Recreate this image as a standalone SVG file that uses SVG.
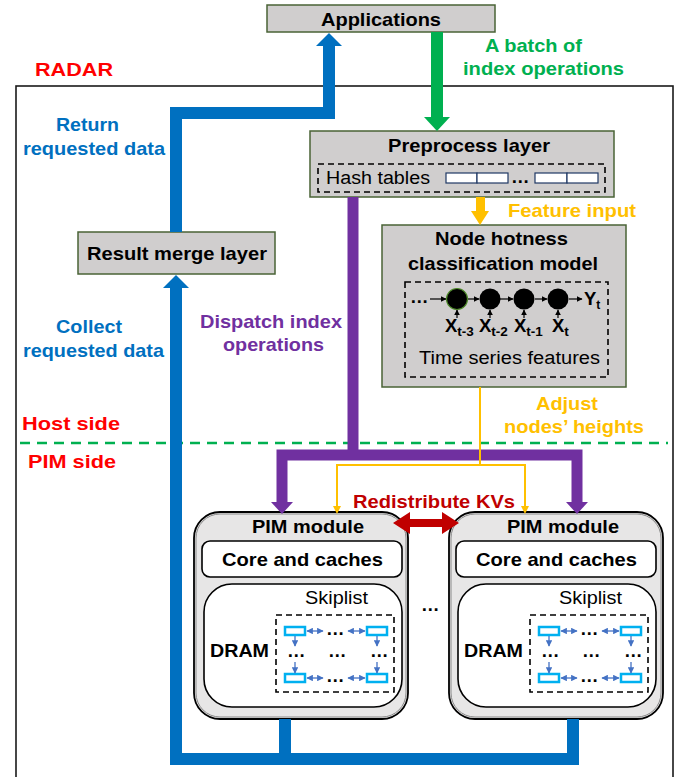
<svg xmlns="http://www.w3.org/2000/svg" width="681" height="777" viewBox="0 0 681 777">
<defs>
<style>
text{font-family:"Liberation Sans",Arial,sans-serif;}
.b{font-weight:bold;font-size:18.5px;}
.n{font-size:18px;}
.box{fill:#d0cece;stroke:#4a6336;stroke-width:1.5;}
.dash{fill:none;stroke:#000;stroke-width:1.6;stroke-dasharray:6 4;}
.cell{fill:#fff;stroke:#1f3864;stroke-width:1.2;}
.sk{fill:#fff;stroke:#00b0f0;stroke-width:2.5;}
.ska{stroke:#4472c4;stroke-width:1.3;fill:none;}
</style>
<marker id="ah" viewBox="0 0 10 10" refX="9" refY="5" markerWidth="5" markerHeight="5" orient="auto-start-reverse"><path d="M0,0 L10,5 L0,10 z" fill="#4472c4"/></marker>
<marker id="bk" viewBox="0 0 10 10" refX="9" refY="5" markerWidth="5" markerHeight="5" orient="auto"><path d="M0,0 L10,5 L0,10 z" fill="#000"/></marker>
<g id="skip">
<rect class="dash" x="276" y="615" width="118" height="77"/>
<rect class="sk" x="285" y="627" width="20" height="8"/>
<rect class="sk" x="367" y="627" width="20" height="8"/>
<rect class="sk" x="285" y="674" width="20" height="8"/>
<rect class="sk" x="367" y="674" width="20" height="8"/>
<line class="ska" x1="307" y1="631" x2="323" y2="631" marker-start="url(#ah)" marker-end="url(#ah)"/>
<line class="ska" x1="348" y1="631" x2="365" y2="631" marker-start="url(#ah)" marker-end="url(#ah)"/>
<line class="ska" x1="307" y1="678" x2="323" y2="678" marker-start="url(#ah)" marker-end="url(#ah)"/>
<line class="ska" x1="348" y1="678" x2="365" y2="678" marker-start="url(#ah)" marker-end="url(#ah)"/>
<line class="ska" x1="295" y1="636" x2="295" y2="646" marker-end="url(#ah)"/>
<line class="ska" x1="377" y1="636" x2="377" y2="646" marker-end="url(#ah)"/>
<line class="ska" x1="295" y1="662" x2="295" y2="673" marker-end="url(#ah)"/>
<line class="ska" x1="377" y1="662" x2="377" y2="673" marker-end="url(#ah)"/>
<text x="326" y="635" class="b" font-size="15">…</text>
<text x="326" y="682" class="b" font-size="15">…</text>
<text x="287" y="657" class="b" font-size="15">…</text>
<text x="328" y="657" class="b" font-size="15">…</text>
<text x="370" y="657" class="b" font-size="15">…</text>
</g>
</defs>
<rect width="681" height="777" fill="#fff"/>

<!-- outer RADAR box -->
<rect x="16" y="86" width="657" height="740" fill="none" stroke="#1a1a1a" stroke-width="1.6"/>

<!-- free labels -->
<text x="35" y="76" class="b" fill="#ff0000" textLength="78" lengthAdjust="spacingAndGlyphs">RADAR</text>
<text x="485" y="52" class="b" fill="#00b050" textLength="97" lengthAdjust="spacingAndGlyphs">A batch of</text>
<text x="463" y="75" class="b" fill="#00b050" textLength="161" lengthAdjust="spacingAndGlyphs">index operations</text>
<text x="56" y="131" class="b" fill="#0070c0" textLength="63" lengthAdjust="spacingAndGlyphs">Return</text>
<text x="23" y="155" class="b" fill="#0070c0" textLength="142" lengthAdjust="spacingAndGlyphs">requested data</text>
<text x="56" y="333" class="b" fill="#0070c0" textLength="66" lengthAdjust="spacingAndGlyphs">Collect</text>
<text x="23" y="357" class="b" fill="#0070c0" textLength="141" lengthAdjust="spacingAndGlyphs">requested data</text>
<text x="200" y="328" class="b" fill="#7030a0" textLength="142" lengthAdjust="spacingAndGlyphs">Dispatch index</text>
<text x="223" y="351" class="b" fill="#7030a0" textLength="101" lengthAdjust="spacingAndGlyphs">operations</text>
<text x="22" y="430" class="b" fill="#ff0000" textLength="98" lengthAdjust="spacingAndGlyphs">Host side</text>
<text x="28" y="468" class="b" fill="#ff0000" textLength="88" lengthAdjust="spacingAndGlyphs">PIM side</text>
<text x="536" y="410" class="b" fill="#ffc000" textLength="62" lengthAdjust="spacingAndGlyphs">Adjust</text>
<text x="504" y="433" class="b" fill="#ffc000" textLength="140" lengthAdjust="spacingAndGlyphs">nodes’ heights</text>
<text x="508" y="217" class="b" fill="#ffc000" textLength="128" lengthAdjust="spacingAndGlyphs">Feature input</text>
<text x="353" y="508" class="b" fill="#c00000" textLength="162" lengthAdjust="spacingAndGlyphs">Redistribute KVs</text>
<text x="421" y="611" class="b" font-size="17">…</text>

<!-- host/PIM divider -->
<line x1="20" y1="443" x2="668" y2="443" stroke="#00b050" stroke-width="2.5" stroke-dasharray="10 7"/>

<!-- nodes -->
<g id="applications">
<rect class="box" x="267" y="5" width="228" height="27"/>
<text x="321" y="26" class="b" textLength="120" lengthAdjust="spacingAndGlyphs">Applications</text>
</g>

<g id="preprocess">
<rect class="box" x="310" y="131" width="304" height="66"/>
<text x="388" y="152" class="b" textLength="162" lengthAdjust="spacingAndGlyphs">Preprocess layer</text>
<rect class="dash" x="318" y="164" width="287" height="28"/>
<text x="326" y="184" class="n" textLength="104" lengthAdjust="spacingAndGlyphs">Hash tables</text>
<rect class="cell" x="446" y="173" width="31" height="10"/>
<rect class="cell" x="477" y="173" width="31" height="10"/>
<text x="511" y="183" class="b" font-size="16">…</text>
<rect class="cell" x="535" y="173" width="32" height="10"/>
<rect class="cell" x="567" y="173" width="31" height="10"/>
</g>

<g id="classifier">
<rect class="box" x="382" y="225" width="244" height="162"/>
<text x="435" y="245" class="b" textLength="133" lengthAdjust="spacingAndGlyphs">Node hotness</text>
<text x="408" y="270" class="b" textLength="190" lengthAdjust="spacingAndGlyphs">classification model</text>
<rect class="dash" x="405" y="282" width="203" height="95"/>
<text x="410" y="303" class="b" font-size="16">…</text>
<g stroke="#000" stroke-width="1.2">
<line x1="430" y1="299" x2="446" y2="299" marker-end="url(#bk)"/>
<line x1="467" y1="299" x2="479" y2="299" marker-end="url(#bk)"/>
<line x1="500" y1="299" x2="513" y2="299" marker-end="url(#bk)"/>
<line x1="535" y1="299" x2="547" y2="299" marker-end="url(#bk)"/>
<line x1="569" y1="299" x2="582" y2="299" marker-end="url(#bk)"/>
<line x1="457" y1="318" x2="457" y2="310" marker-end="url(#bk)"/>
<line x1="490" y1="318" x2="490" y2="310" marker-end="url(#bk)"/>
<line x1="524" y1="318" x2="524" y2="310" marker-end="url(#bk)"/>
<line x1="558" y1="318" x2="558" y2="310" marker-end="url(#bk)"/>
</g>
<circle cx="457" cy="299" r="10.5" fill="#000" stroke="#4e8a2a" stroke-width="1.2"/>
<circle cx="490" cy="299" r="10.5" fill="#000"/>
<circle cx="524" cy="299" r="10.5" fill="#000"/>
<circle cx="558" cy="299" r="10.5" fill="#000"/>
<text x="584" y="305" class="b" font-size="18">Y<tspan font-size="12" dy="4">t</tspan></text>
<text x="445" y="332" class="b" font-size="19">X<tspan font-size="13.5" dy="4">t-3</tspan></text>
<text x="479" y="332" class="b" font-size="19">X<tspan font-size="13.5" dy="4">t-2</tspan></text>
<text x="514" y="332" class="b" font-size="19">X<tspan font-size="13.5" dy="4">t-1</tspan></text>
<text x="552" y="332" class="b" font-size="19">X<tspan font-size="13.5" dy="4">t</tspan></text>
<text x="419" y="364" class="n" textLength="181" lengthAdjust="spacingAndGlyphs">Time series features</text>
</g>

<g id="result-merge">
<rect class="box" x="78" y="232" width="197" height="42"/>
<text x="87" y="260" class="b" textLength="180" lengthAdjust="spacingAndGlyphs">Result merge layer</text>
</g>

<g id="pim1">
<rect x="194" y="512" width="214" height="207" rx="26" fill="#e7e6e6" stroke="#000" stroke-width="1.8"/>
<rect x="196" y="514" width="210" height="203" rx="24" fill="none" stroke="#8a8a8a" stroke-width="1"/>
<text x="252" y="533" class="b" textLength="112" lengthAdjust="spacingAndGlyphs">PIM module</text>
<rect x="202" y="541" width="200" height="36" rx="8" fill="#fff" stroke="#000" stroke-width="1.6"/>
<text x="222" y="566" class="b" textLength="161" lengthAdjust="spacingAndGlyphs">Core and caches</text>
<rect x="204" y="584" width="198" height="123" rx="28" fill="#fff" stroke="#000" stroke-width="1.6"/>
<text x="305" y="604" class="n" textLength="63" lengthAdjust="spacingAndGlyphs">Skiplist</text>
<text x="210" y="657" class="b" textLength="59" lengthAdjust="spacingAndGlyphs">DRAM</text>
<use href="#skip"/>
</g>

<g id="pim2">
<rect x="449" y="512" width="214" height="207" rx="26" fill="#e7e6e6" stroke="#000" stroke-width="1.8"/>
<rect x="451" y="514" width="210" height="203" rx="24" fill="none" stroke="#8a8a8a" stroke-width="1"/>
<text x="507" y="533" class="b" textLength="112" lengthAdjust="spacingAndGlyphs">PIM module</text>
<rect x="456" y="541" width="200" height="36" rx="8" fill="#fff" stroke="#000" stroke-width="1.6"/>
<text x="476" y="566" class="b" textLength="161" lengthAdjust="spacingAndGlyphs">Core and caches</text>
<rect x="458" y="584" width="198" height="123" rx="28" fill="#fff" stroke="#000" stroke-width="1.6"/>
<text x="559" y="604" class="n" textLength="63" lengthAdjust="spacingAndGlyphs">Skiplist</text>
<text x="464" y="657" class="b" textLength="59" lengthAdjust="spacingAndGlyphs">DRAM</text>
<use href="#skip" transform="translate(254,0)"/>
</g>

<!-- connectors -->
<g id="connectors">
<path d="M176,232 V113 H329 V45" fill="none" stroke="#0070c0" stroke-width="12" stroke-linejoin="miter"/>
<polygon points="316,46 342,46 329,33" fill="#0070c0"/>
<path d="M573,719 V759 H176 V287 M285,719 V759" fill="none" stroke="#0070c0" stroke-width="12" stroke-linejoin="miter"/>
<polygon points="163,288 189,288 176,275" fill="#0070c0"/>
<line x1="437" y1="32" x2="437" y2="118" stroke="#00b050" stroke-width="12"/>
<polygon points="424,117 450,117 437,131" fill="#00b050"/>
<path d="M353,197 V455 M282,503 V455 H577 V503" fill="none" stroke="#7030a0" stroke-width="11" stroke-linejoin="miter"/>
<polygon points="271,502 293,502 282,514" fill="#7030a0"/>
<polygon points="566,502 588,502 577,514" fill="#7030a0"/>
<rect x="476" y="197" width="9" height="15" fill="#ffc000"/>
<polygon points="471,211 489,211 480,225" fill="#ffc000"/>
<path d="M480,387 V465 M337,507 V465 H525 V507" fill="none" stroke="#ffc000" stroke-width="2"/>
<polygon points="333,506 341,506 337,514" fill="#ffc000"/>
<polygon points="521,506 529,506 525,514" fill="#ffc000"/>
<polygon points="393,523 410,512 410,519 442,519 442,512 459,523 442,534 442,527 410,527 410,534" fill="#c00000"/>
</g>
</svg>
